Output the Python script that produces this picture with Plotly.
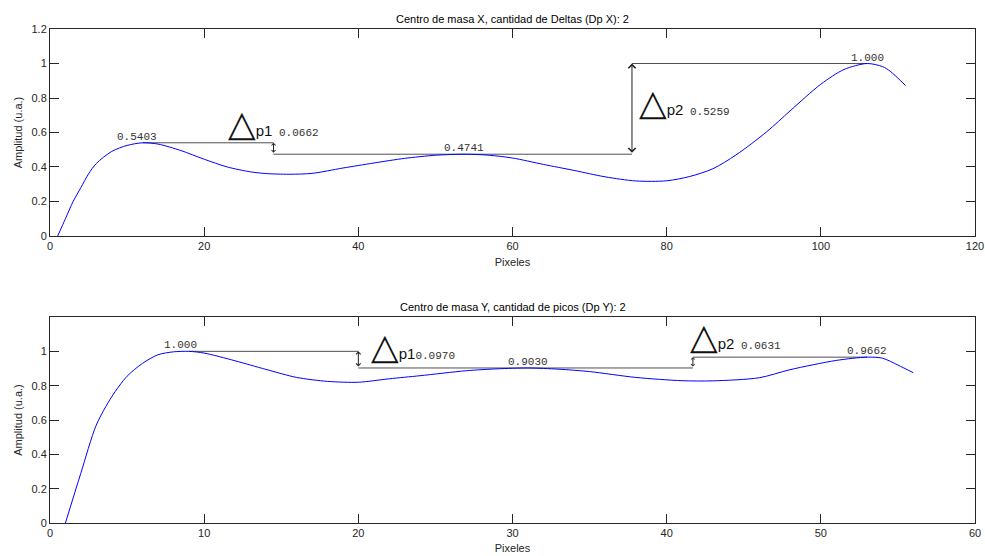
import plotly.graph_objects as go

# ---------------- data: Centro de masa X ----------------
x_top = [1, 2, 3, 4, 5, 6, 8, 10, 12, 14, 17, 20, 23, 26, 28, 31, 34, 38, 42, 46,
         50, 54, 57, 60, 64, 68, 72, 76, 80, 83, 86, 89, 93, 96, 100, 103, 106, 108, 109, 111]
y_top = [0.0, 0.10, 0.20, 0.28, 0.36, 0.42, 0.49, 0.525, 0.5403, 0.533, 0.495, 0.445, 0.40, 0.372, 0.362,
         0.358, 0.363, 0.394, 0.423, 0.45, 0.468, 0.4741, 0.468, 0.452, 0.415, 0.38, 0.343, 0.319, 0.32,
         0.345, 0.39, 0.47, 0.605, 0.725, 0.88, 0.965, 1.0, 0.982, 0.955, 0.872]
peaks_top_x = [12, 54, 106]
peaks_top_y = [0.5403, 0.4741, 1.000]
delta_top_x = [29, 75.5]
delta_top_v = [0.0662, 0.5259]

# ---------------- data: Centro de masa Y ----------------
x_bot = [1, 2, 3, 4, 5, 6, 7, 8, 9, 10, 12, 14, 16, 18, 20, 22, 24, 27, 29, 31,
         33, 35, 38, 41, 43, 46, 48, 51, 53, 54, 55, 56]
y_bot = [0.0, 0.29, 0.57, 0.735, 0.855, 0.93, 0.98, 0.997, 1.0, 0.99, 0.945, 0.895, 0.848, 0.825, 0.82,
         0.84, 0.858, 0.887, 0.898, 0.903, 0.896, 0.882, 0.848, 0.829, 0.828, 0.846, 0.893, 0.947,
         0.9662, 0.96, 0.92, 0.875]
peaks_bot_x = [9, 31, 53]
peaks_bot_y = [1.000, 0.9030, 0.9662]
delta_bot_x = [20, 41.7]
delta_bot_v = [0.0970, 0.0631]

titles = ["Centro de masa X, cantidad de Deltas (Dp X): 2",
          "Centro de masa Y, cantidad de picos (Dp Y): 2"]
xticks_top = [0, 20, 40, 60, 80, 100, 120]
xticks_bot = [0, 10, 20, 30, 40, 50, 60]
yticks_top = [0, 0.2, 0.4, 0.6, 0.8, 1, 1.2]
yticks_top_txt = ["0", "0.2", "0.4", "0.6", "0.8", "1", "1.2"]
yticks_bot = [0, 0.2, 0.4, 0.6, 0.8, 1]
yticks_bot_txt = ["0", "0.2", "0.4", "0.6", "0.8", "1"]

SANS = "Liberation Sans, Arial, sans-serif"
MONO = "Liberation Mono, Courier New, monospace"
AX_COL = "#262626"
REF_COL = "#505050"

fig = go.Figure()


def step_lines(px, py, dx):
    xs = [px[0], dx[0], None, dx[0], dx[1], None, dx[1], px[2]]
    ys = [py[0], py[0], None, py[1], py[1], None, py[2], py[2]]
    return xs, ys


for (cx, cy, px, py, dx), (xa, ya) in zip(
        [(x_top, y_top, peaks_top_x, peaks_top_y, delta_top_x),
         (x_bot, y_bot, peaks_bot_x, peaks_bot_y, delta_bot_x)],
        [("x", "y"), ("x2", "y2")]):
    sx, sy = step_lines(px, py, dx)
    fig.add_trace(go.Scatter(x=sx, y=sy, mode="lines", xaxis=xa, yaxis=ya,
                             line=dict(color=REF_COL, width=1), hoverinfo="skip", showlegend=False))
    fig.add_trace(go.Scatter(x=cx, y=cy, mode="lines", xaxis=xa, yaxis=ya,
                             line=dict(color="#0000ff", width=1, shape="spline", smoothing=0.8),
                             showlegend=False))

annotations = []

# peak value labels
peak_label_shift = [[-6, -2, 0], [-8, 0, 0]]
for k, (px, py, xa, ya) in enumerate([(peaks_top_x, peaks_top_y, "x", "y"),
                                      (peaks_bot_x, peaks_bot_y, "x2", "y2")]):
    for i, (xv, yv) in enumerate(zip(px, py)):
        annotations.append(dict(x=xv, y=yv, xref=xa, yref=ya, text=f"{yv:.4f}" if yv < 1 else f"{yv:.3f}",
                                showarrow=False, xanchor="center", yanchor="bottom",
                                xshift=peak_label_shift[k][i], yshift=-2,
                                font=dict(family=MONO, size=11, color="#333333")))

# delta arrows and labels
label_shift = [[(-48, 8), (5, 29)], [(11, -1), (-5, 9)]]
gaps = [[" ", " "], ["", " "]]
arrow_sizes = [[0.8, 1.4], [0.9, 0.7]]
for k, (px, py, dx, dv, xa, ya) in enumerate([
        (peaks_top_x, peaks_top_y, delta_top_x, delta_top_v, "x", "y"),
        (peaks_bot_x, peaks_bot_y, delta_bot_x, delta_bot_v, "x2", "y2")]):
    for i in range(2):
        upper = py[i] if i == 0 else py[2]
        lower = py[1]
        annotations.append(dict(x=dx[i], y=upper, ax=dx[i], ay=lower, xref=xa, yref=ya,
                                axref=xa, ayref=ya, text="", showarrow=True,
                                arrowhead=4, startarrowhead=4, arrowside="end+start",
                                arrowsize=arrow_sizes[k][i], startarrowsize=arrow_sizes[k][i],
                                arrowwidth=1, arrowcolor="#202020", standoff=0, startstandoff=0))
        txt = (f'<span style="font-family:DejaVu Sans;font-size:36px;font-weight:bold">△</span>'
               f'<span style="font-size:15px">p{i + 1}</span>'
               f'<span style="font-family:Liberation Mono;font-size:11px;fill:#333333">{gaps[k][i]}{dv[i]:.4f}</span>')
        xs, ys = label_shift[k][i]
        annotations.append(dict(x=dx[i], y=lower, xref=xa, yref=ya, text=txt, showarrow=False,
                                xanchor="left", yanchor="bottom", xshift=xs, yshift=ys,
                                font=dict(family=SANS, size=15, color="#111111")))

# subplot titles
for t, yp in zip(titles, [1.021, 0.437]):
    annotations.append(dict(x=0.5, y=yp, xref="paper", yref="paper", text=t, showarrow=False,
                            xanchor="center", yanchor="middle",
                            font=dict(family=SANS, size=11, color="#000000")))

axis_common = dict(showgrid=False, zeroline=False, showline=True, linecolor=AX_COL, linewidth=1,
                   mirror="ticks", ticks="inside", ticklen=9, tickwidth=1, tickcolor=AX_COL,
                   automargin=False, tickfont=dict(family=SANS, size=11, color=AX_COL))

fig.update_layout(
    width=985, height=556, margin=dict(l=50, r=10, t=29, b=33),
    paper_bgcolor="white", plot_bgcolor="white", showlegend=False,
    annotations=annotations,
    xaxis=dict(domain=[0, 1], anchor="y", range=[0, 120], tickvals=xticks_top,
               title=dict(text="Pixeles", font=dict(family=SANS, size=11, color=AX_COL), standoff=7),
               **axis_common),
    yaxis=dict(domain=[0.581, 1], anchor="x", range=[0, 1.2], tickvals=yticks_top, ticktext=yticks_top_txt,
               title=dict(text="Amplitud (u.a.)", font=dict(family=SANS, size=11, color=AX_COL), standoff=6),
               **axis_common),
    xaxis2=dict(domain=[0, 1], anchor="y2", range=[0, 60], tickvals=xticks_bot,
                title=dict(text="Pixeles", font=dict(family=SANS, size=11, color=AX_COL), standoff=6),
                **axis_common),
    yaxis2=dict(domain=[0, 0.417], anchor="x2", range=[0, 1.2], tickvals=yticks_bot, ticktext=yticks_bot_txt,
                title=dict(text="Amplitud (u.a.)", font=dict(family=SANS, size=11, color=AX_COL), standoff=6),
                **axis_common),
)

fig.write_html("out.html")
